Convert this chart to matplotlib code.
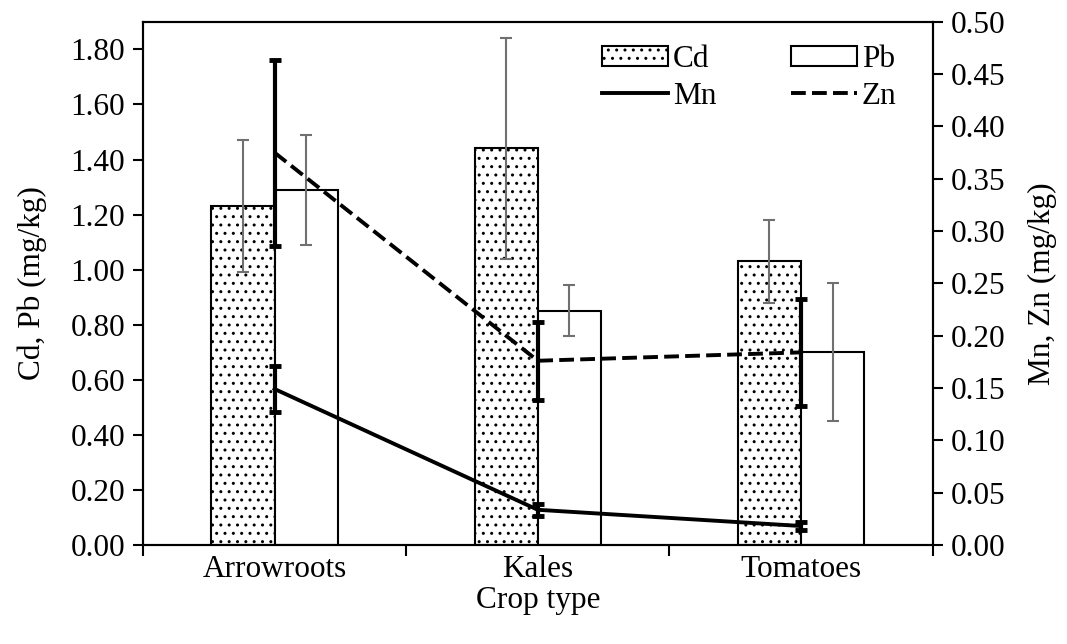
import numpy as np
import matplotlib.pyplot as plt
from matplotlib.ticker import FixedLocator, FormatStrFormatter

plt.rcParams['font.family'] = ['Liberation Serif', 'DejaVu Serif']
plt.rcParams['hatch.linewidth'] = 1.0

# Data
crops = ['Arrowroots', 'Kales', 'Tomatoes']
cd = [1.23, 1.44, 1.03]
cd_err = [0.24, 0.40, 0.15]
pb = [1.29, 0.85, 0.70]
pb_err = [0.20, 0.093, 0.25]
mn = [0.149, 0.0335, 0.018]
mn_err = [0.022, 0.006, 0.004]
zn = [0.375, 0.176, 0.184]
zn_err = [0.089, 0.0375, 0.051]

FS = 22.5
x = np.arange(len(crops))
w = 0.24

fig = plt.figure(figsize=(10.67, 6.44), dpi=100)
ax = fig.add_axes([0.134, 0.154, 0.740, 0.812])

ax.bar(x - w / 2, cd, w, color='white', edgecolor='black', linewidth=1.5,
       hatch='..', label='Cd', zorder=2)
ax.bar(x + w / 2, pb, w, color='white', edgecolor='black', linewidth=1.5,
       label='Pb', zorder=2)
ax.errorbar(x - w / 2, cd, yerr=cd_err, fmt='none', ecolor='#707070',
            elinewidth=1.5, capsize=4, capthick=1.5, zorder=3)
ax.errorbar(x + w / 2, pb, yerr=pb_err, fmt='none', ecolor='#707070',
            elinewidth=1.5, capsize=4, capthick=1.5, zorder=3)

ax.set_xlim(-0.5, 2.5)
ax.set_ylim(0, 1.9)
ax.set_yticks(np.arange(0, 1.81, 0.2))
ax.yaxis.set_major_formatter(FormatStrFormatter('%.2f'))
ax.set_xticks(x)
ax.set_xticklabels(crops)
ax.xaxis.set_minor_locator(FixedLocator([-0.5, 0.5, 1.5, 2.5]))
ax.tick_params(axis='x', which='major', length=0, pad=7, labelsize=FS)
ax.tick_params(axis='x', which='minor', length=8, width=1.5, direction='out')
ax.tick_params(axis='y', length=7, width=1.5, direction='out', labelsize=FS, pad=6)
ax.set_ylabel('Cd, Pb (mg/kg)', fontsize=FS, labelpad=17)
ax.set_xlabel('Crop type', fontsize=FS, labelpad=2)
for s in ax.spines.values():
    s.set_linewidth(1.5)

ax2 = ax.twinx()
ax2.plot(x, mn, color='black', linewidth=2.8, label='Mn', zorder=4)
ax2.plot(x, zn, color='black', linewidth=2.8, linestyle=(0, (3.8, 1.6)), label='Zn', zorder=4)
ax2.errorbar(x, mn, yerr=mn_err, fmt='none', ecolor='black', elinewidth=3,
             capsize=4, capthick=3.5, zorder=5)
ax2.errorbar(x, zn, yerr=zn_err, fmt='none', ecolor='black', elinewidth=3,
             capsize=4, capthick=3.5, zorder=5)
ax2.set_ylim(0, 0.5)
ax2.set_yticks(np.arange(0, 0.501, 0.05))
ax2.yaxis.set_major_formatter(FormatStrFormatter('%.2f'))
ax2.tick_params(axis='y', length=7, width=1.5, direction='out', labelsize=FS, pad=6)
ax2.set_ylabel('Mn, Zn (mg/kg)', fontsize=FS, labelpad=16)
for s in ax2.spines.values():
    s.set_linewidth(1.5)

h1, l1 = ax.get_legend_handles_labels()
h2, l2 = ax2.get_legend_handles_labels()
handles = [h1[0], h1[1], h2[0], h2[1]]
labels = [l1[0], l1[1], l2[0], l2[1]]
# two columns: Cd / Mn, Pb / Zn
order = [0, 2, 1, 3]
leg = ax2.legend([handles[i] for i in order], [labels[i] for i in order],
                 ncol=2, loc='upper right', bbox_to_anchor=(0.97, 0.98),
                 frameon=False, fontsize=FS, handlelength=2.1, handleheight=0.6,
                 handletextpad=0.15, columnspacing=2.4, labelspacing=0.25,
                 borderaxespad=0)

fig.savefig('out.png', dpi=100)
